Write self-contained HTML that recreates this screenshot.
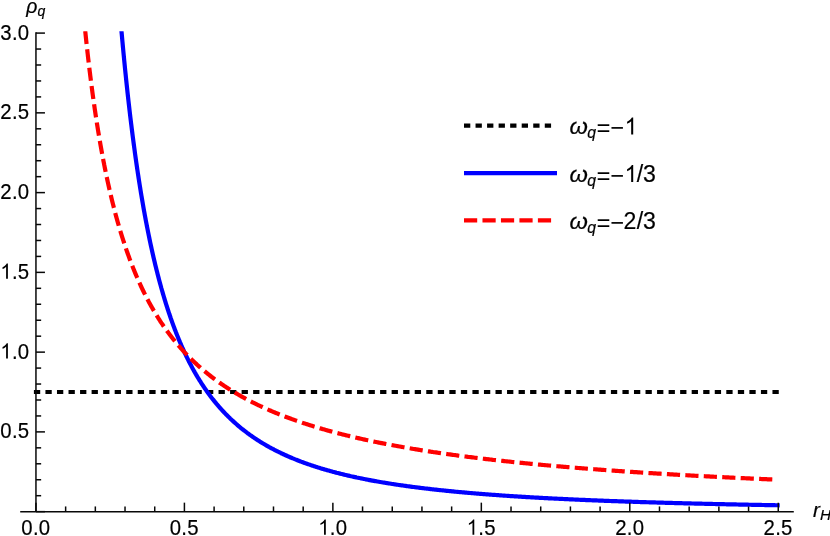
<!DOCTYPE html>
<html><head><meta charset="utf-8"><title>plot</title>
<style>
html,body{margin:0;padding:0;background:#fff;}
body{width:830px;height:536px;overflow:hidden;}
svg{display:block;will-change:transform;}
text{font-family:"Liberation Sans",sans-serif;fill:#000;stroke:#000;stroke-width:0.2px;}
.t{font-size:23.0px;letter-spacing:0.3px;}
.lg{font-size:24.2px;letter-spacing:0.25px;}
.lb{font-size:19.4px;}
.i{font-style:italic;}
</style></head><body>
<svg width="830" height="536" viewBox="0 0 830 536">
<rect width="830" height="536" fill="#fff"/>
<defs><clipPath id="c"><rect x="20" y="31.2" width="800" height="490"/></clipPath></defs>
<g clip-path="url(#c)" fill="none" stroke-width="4.2">
<path d="M33.9,392.01 L778.9,392.01" stroke="#000" stroke-dasharray="6.3 5.24"/>
<path id="blue" d="M117.60,-15.69 L117.97,-11.04 L118.33,-6.43 L118.69,-1.87 L118.93,1.04 L119.06,2.66 L119.43,7.15 L119.80,11.60 L120.17,16.00 L120.26,16.99 L120.55,20.37 L120.92,24.70 L121.30,29.00 L121.58,32.20 L121.68,33.25 L122.06,37.47 L122.44,41.65 L122.82,45.79 L122.91,46.72 L123.21,49.90 L123.60,53.97 L123.99,58.01 L124.24,60.59 L124.38,62.00 L124.77,65.97 L125.16,69.90 L125.56,73.79 L125.56,73.84 L125.96,77.65 L126.36,81.48 L126.76,85.27 L126.89,86.53 L127.16,89.03 L127.56,92.75 L127.97,96.45 L128.22,98.67 L128.38,100.11 L128.79,103.73 L129.20,107.33 L129.54,110.29 L129.62,110.90 L130.03,114.43 L130.45,117.93 L130.87,121.40 L130.87,121.43 L131.29,124.84 L131.71,128.25 L132.14,131.63 L132.20,132.12 L132.56,134.98 L132.99,138.30 L133.42,141.59 L133.53,142.37 L133.86,144.85 L134.29,148.09 L134.73,151.29 L134.85,152.21 L135.16,154.47 L135.60,157.62 L136.05,160.74 L136.18,161.67 L136.49,163.83 L136.94,166.90 L137.38,169.94 L137.51,170.75 L137.83,172.95 L138.29,175.94 L138.74,178.90 L138.83,179.49 L139.20,181.83 L139.66,184.74 L140.12,187.62 L140.16,187.89 L140.58,190.48 L141.04,193.31 L141.49,195.98 L141.51,196.11 L141.98,198.89 L142.45,201.65 L142.81,203.77 L142.92,204.38 L143.39,207.09 L143.87,209.78 L144.14,211.28 L144.35,212.44 L144.83,215.08 L145.31,217.69 L145.47,218.51 L145.80,220.28 L146.29,222.85 L146.78,225.40 L146.79,225.49 L147.27,227.92 L147.76,230.42 L148.12,232.22 L148.26,232.90 L148.76,235.36 L149.26,237.79 L149.45,238.71 L149.76,240.21 L150.26,242.60 L150.77,244.97 L150.77,244.98 L151.28,247.32 L151.79,249.65 L152.10,251.04 L152.31,251.96 L152.82,254.25 L153.34,256.52 L153.43,256.90 L153.86,258.77 L154.39,261.00 L154.75,262.55 L154.91,263.21 L155.44,265.40 L155.97,267.57 L156.08,268.03 L156.50,269.72 L157.04,271.86 L157.41,273.32 L157.57,273.97 L158.11,276.06 L158.66,278.14 L158.74,278.44 L159.20,280.20 L159.75,282.24 L160.06,283.40 L160.30,284.26 L160.85,286.27 L161.39,288.21 L161.40,288.25 L161.96,290.22 L162.52,292.18 L162.72,292.86 L163.08,294.11 L163.64,296.03 L164.04,297.37 L164.21,297.93 L164.78,299.81 L165.35,301.68 L165.37,301.74 L165.93,303.53 L166.50,305.37 L166.70,305.98 L167.08,307.18 L167.66,308.99 L168.02,310.09 L168.25,310.77 L168.83,312.54 L169.35,314.08 L169.42,314.30 L170.02,316.04 L170.61,317.76 L170.68,317.95 L171.21,319.47 L171.81,321.17 L172.00,321.71 L172.41,322.85 L173.02,324.51 L173.33,325.36 L173.63,326.16 L174.24,327.80 L174.66,328.91 L174.85,329.42 L175.47,331.02 L175.98,332.36 L176.09,332.62 L176.71,334.19 L177.31,335.71 L177.33,335.76 L177.96,337.31 L178.59,338.85 L178.64,338.96 L179.22,340.37 L179.86,341.88 L179.96,342.13 L180.50,343.38 L181.14,344.86 L181.29,345.21 L181.78,346.33 L182.43,347.79 L182.62,348.21 L183.08,349.23 L183.73,350.66 L183.95,351.13 L184.39,352.08 L185.05,353.49 L185.27,353.97 L185.71,354.88 L186.37,356.26 L186.60,356.73 L187.04,357.63 L187.71,358.99 L187.93,359.43 L188.38,360.34 L189.06,361.67 L189.25,362.05 L189.74,362.99 L190.42,364.30 L190.58,364.61 L191.11,365.60 L191.80,366.89 L191.91,367.10 L192.49,368.17 L193.18,369.43 L193.23,369.53 L193.88,370.69 L194.56,371.89 L194.58,371.93 L195.28,373.16 L195.89,374.20 L195.99,374.38 L196.70,375.59 L197.21,376.46 L197.41,376.79 L198.13,377.98 L198.54,378.65 L198.85,379.16 L199.57,380.33 L199.87,380.80 L200.30,381.48 L201.03,382.63 L201.19,382.89 L201.76,383.77 L202.50,384.90 L202.52,384.93 L203.24,386.01 L203.85,386.93 L203.98,387.12 L204.72,388.22 L205.17,388.88 L205.47,389.31 L206.22,390.39 L206.50,390.78 L206.98,391.45 L207.74,392.51 L207.83,392.64 L208.50,393.56 L209.16,394.45 L209.27,394.60 L210.04,395.64 L210.48,396.23 L210.81,396.66 L211.58,397.67 L211.81,397.96 L212.36,398.68 L213.14,399.66 L213.15,399.67 L213.93,400.66 L214.46,401.32 L214.72,401.64 L215.52,402.61 L215.79,402.94 L216.31,403.57 L217.11,404.52 L217.12,404.53 L217.92,405.47 L218.44,406.08 L218.72,406.40 L219.53,407.33 L219.77,407.60 L220.35,408.25 L221.10,409.08 L221.17,409.16 L221.99,410.07 L222.42,410.54 L222.81,410.96 L223.64,411.85 L223.75,411.96 L224.48,412.73 L225.08,413.36 L225.31,413.60 L226.15,414.47 L226.40,414.72 L227.00,415.32 L227.73,416.06 L227.85,416.17 L228.70,417.01 L229.06,417.37 L229.55,417.85 L230.39,418.65 L230.41,418.67 L231.27,419.49 L231.71,419.91 L232.14,420.31 L233.01,421.11 L233.04,421.14 L233.89,421.91 L234.37,422.34 L234.76,422.70 L235.65,423.48 L235.69,423.53 L236.53,424.26 L237.02,424.69 L237.42,425.03 L238.32,425.80 L238.35,425.82 L239.21,426.55 L239.67,426.94 L240.12,427.30 L241.00,428.03 L241.02,428.05 L241.93,428.78 L242.33,429.10 L242.85,429.51 L243.65,430.15 L243.76,430.24 L244.69,430.96 L244.98,431.18 L245.61,431.67 L246.31,432.20 L246.54,432.37 L247.48,433.07 L247.63,433.19 L248.41,433.76 L248.96,434.16 L249.36,434.45 L250.29,435.12 L250.30,435.13 L251.26,435.81 L251.61,436.06 L252.21,436.47 L252.94,436.98 L253.17,437.14 L254.13,437.79 L254.27,437.88 L255.10,438.44 L255.60,438.77 L256.07,439.09 L256.92,439.65 L257.05,439.73 L258.03,440.36 L258.25,440.50 L259.02,440.99 L259.58,441.34 L260.01,441.62 L260.90,442.17 L261.00,442.23 L262.00,442.84 L262.23,442.98 L263.00,443.45 L263.56,443.78 L264.01,444.05 L264.88,444.57 L265.02,444.65 L266.04,445.24 L266.21,445.34 L267.06,445.82 L267.54,446.09 L268.09,446.40 L268.86,446.84 L269.12,446.98 L270.15,447.55 L270.19,447.57 L271.19,448.12 L271.52,448.29 L272.23,448.68 L272.84,449.00 L273.28,449.23 L274.17,449.70 L274.33,449.78 L275.39,450.33 L275.50,450.38 L276.46,450.87 L276.82,451.05 L277.52,451.40 L278.15,451.72 L278.59,451.93 L279.48,452.37 L279.67,452.46 L280.75,452.98 L280.81,453.01 L281.84,453.50 L282.13,453.64 L282.93,454.01 L283.46,454.26 L284.03,454.52 L284.79,454.87 L285.13,455.02 L286.11,455.47 L286.23,455.52 L287.34,456.02 L287.44,456.06 L288.46,456.51 L288.77,456.64 L289.58,456.99 L290.09,457.22 L290.70,457.48 L291.42,457.78 L291.83,457.95 L292.75,458.33 L292.97,458.43 L294.07,458.88 L294.11,458.90 L295.26,459.36 L295.40,459.42 L296.41,459.82 L296.73,459.95 L297.56,460.28 L298.05,460.47 L298.72,460.73 L299.38,460.99 L299.89,461.18 L300.71,461.49 L301.06,461.63 L302.03,461.99 L302.24,462.07 L303.36,462.48 L303.42,462.50 L304.60,462.94 L304.69,462.97 L305.80,463.37 L306.02,463.44 L306.99,463.79 L307.34,463.91 L308.20,464.21 L308.67,464.38 L309.40,464.63 L310.00,464.83 L310.62,465.05 L311.32,465.28 L311.84,465.46 L312.65,465.73 L313.06,465.86 L313.98,466.17 L314.29,466.27 L315.30,466.60 L315.52,466.67 L316.63,467.02 L316.77,467.06 L317.96,467.44 L318.01,467.46 L319.26,467.85 L319.28,467.85 L320.52,468.23 L320.61,468.26 L321.78,468.62 L321.94,468.66 L323.05,469.00 L323.26,469.06 L324.32,469.37 L324.59,469.45 L325.60,469.74 L325.92,469.83 L326.89,470.11 L327.24,470.21 L328.18,470.48 L328.57,470.59 L329.48,470.84 L329.90,470.96 L330.78,471.20 L331.23,471.32 L332.09,471.56 L332.55,471.68 L333.40,471.91 L333.88,472.04 L334.72,472.26 L335.21,472.39 L336.05,472.61 L336.53,472.74 L337.38,472.95 L337.86,473.08 L338.72,473.30 L339.19,473.41 L340.06,473.63 L340.51,473.75 L341.41,473.97 L341.84,474.07 L342.76,474.30 L343.17,474.40 L344.13,474.63 L344.49,474.72 L345.49,474.96 L345.82,475.03 L346.87,475.28 L347.15,475.35 L348.25,475.60 L348.47,475.65 L349.63,475.92 L349.80,475.96 L351.02,476.23 L351.13,476.26 L352.42,476.55 L352.46,476.55 L353.78,476.85 L353.83,476.85 L355.11,477.13 L355.24,477.16 L356.44,477.42 L356.65,477.47 L357.76,477.70 L358.08,477.77 L359.09,477.98 L359.51,478.07 L360.42,478.25 L360.94,478.36 L361.74,478.53 L362.38,478.66 L363.07,478.79 L363.83,478.95 L364.40,479.06 L365.29,479.23 L365.72,479.32 L366.75,479.52 L367.05,479.58 L368.22,479.80 L368.38,479.83 L369.69,480.08 L369.70,480.09 L371.03,480.34 L371.17,480.36 L372.36,480.58 L372.66,480.64 L373.68,480.83 L374.15,480.91 L375.01,481.07 L375.65,481.18 L376.34,481.31 L377.16,481.45 L377.67,481.54 L378.67,481.72 L378.99,481.77 L380.19,481.98 L380.32,482.00 L381.65,482.23 L381.72,482.24 L382.97,482.45 L383.26,482.50 L384.30,482.68 L384.80,482.76 L385.63,482.90 L386.35,483.01 L386.95,483.11 L387.90,483.27 L388.28,483.33 L389.46,483.52 L389.61,483.54 L390.93,483.75 L391.03,483.76 L392.26,483.96 L392.61,484.01 L393.59,484.16 L394.19,484.25 L394.91,484.36 L395.78,484.50 L396.24,484.57 L397.37,484.73 L397.57,484.76 L398.89,484.96 L398.98,484.97 L400.22,485.15 L400.59,485.21 L401.55,485.35 L402.21,485.44 L402.88,485.54 L403.83,485.67 L404.20,485.72 L405.46,485.90 L405.53,485.91 L406.86,486.09 L407.10,486.13 L408.18,486.28 L408.75,486.35 L409.51,486.45 L410.41,486.58 L410.84,486.63 L412.07,486.80 L412.16,486.81 L413.49,486.98 L413.74,487.02 L414.82,487.16 L415.41,487.23 L416.14,487.33 L417.10,487.45 L417.47,487.50 L418.79,487.66 L418.80,487.66 L420.12,487.83 L420.49,487.87 L421.45,487.99 L422.19,488.08 L422.78,488.15 L423.91,488.29 L424.10,488.31 L425.43,488.47 L425.63,488.50 L426.76,488.63 L427.36,488.70 L428.09,488.79 L429.09,488.90 L429.41,488.94 L430.74,489.09 L430.84,489.10 L432.07,489.24 L432.59,489.30 L433.39,489.39 L434.35,489.50 L434.72,489.54 L436.05,489.69 L436.12,489.69 L437.37,489.83 L437.89,489.89 L438.70,489.97 L439.68,490.08 L440.03,490.12 L441.35,490.26 L441.47,490.27 L442.68,490.40 L443.27,490.46 L444.01,490.53 L445.07,490.64 L445.33,490.67 L446.66,490.81 L446.89,490.83 L447.99,490.94 L448.71,491.01 L449.31,491.07 L450.54,491.20 L450.64,491.21 L451.97,491.34 L452.38,491.38 L453.30,491.46 L454.23,491.55 L454.62,491.59 L455.95,491.72 L456.09,491.73 L457.28,491.84 L457.95,491.91 L458.60,491.97 L459.82,492.08 L459.93,492.09 L461.26,492.21 L461.71,492.25 L462.58,492.33 L463.59,492.42 L463.91,492.45 L465.24,492.57 L465.49,492.59 L466.56,492.69 L467.40,492.76 L467.89,492.81 L469.22,492.92 L469.31,492.93 L470.54,493.03 L471.23,493.09 L471.87,493.15 L473.17,493.26 L473.20,493.26 L474.53,493.37 L475.11,493.42 L475.85,493.48 L477.05,493.58 L477.18,493.59 L478.51,493.70 L479.01,493.74 L479.83,493.81 L480.98,493.90 L481.16,493.91 L482.49,494.02 L482.95,494.05 L483.81,494.12 L484.94,494.21 L485.14,494.22 L486.47,494.33 L486.93,494.36 L487.79,494.43 L488.93,494.52 L489.12,494.53 L490.45,494.63 L490.94,494.67 L491.77,494.73 L492.96,494.82 L493.10,494.83 L494.43,494.92 L494.99,494.96 L495.75,495.02 L497.02,495.11 L497.08,495.12 L498.41,495.21 L499.07,495.26 L499.74,495.30 L501.06,495.40 L501.12,495.40 L502.39,495.49 L503.19,495.55 L503.72,495.58 L505.04,495.67 L505.26,495.69 L506.37,495.76 L507.34,495.83 L507.70,495.85 L509.02,495.94 L509.43,495.97 L510.35,496.03 L511.54,496.11 L511.68,496.11 L513.00,496.20 L513.65,496.24 L514.33,496.29 L515.66,496.37 L515.77,496.38 L516.98,496.46 L517.89,496.51 L518.31,496.54 L519.64,496.62 L520.03,496.65 L520.96,496.70 L522.18,496.78 L522.29,496.79 L523.62,496.87 L524.34,496.91 L524.95,496.95 L526.27,497.03 L526.51,497.04 L527.60,497.10 L528.68,497.17 L528.93,497.18 L530.25,497.26 L530.87,497.30 L531.58,497.34 L532.91,497.41 L533.06,497.42 L534.23,497.49 L535.27,497.55 L535.56,497.56 L536.89,497.64 L537.49,497.67 L538.21,497.71 L539.54,497.79 L539.71,497.80 L540.87,497.86 L541.95,497.92 L542.19,497.93 L543.52,498.00 L544.19,498.04 L544.85,498.07 L546.17,498.14 L546.45,498.16 L547.50,498.21 L548.71,498.28 L548.83,498.28 L550.16,498.35 L550.99,498.40 L551.48,498.42 L552.81,498.49 L553.27,498.51 L554.14,498.56 L555.46,498.62 L555.57,498.63 L556.79,498.69 L557.87,498.74 L558.12,498.76 L559.44,498.82 L560.19,498.86 L560.77,498.89 L562.10,498.95 L562.52,498.97 L563.42,499.01 L564.75,499.08 L564.85,499.08 L566.08,499.14 L567.20,499.19 L567.40,499.20 L568.73,499.26 L569.56,499.30 L570.06,499.33 L571.38,499.39 L571.92,499.41 L572.71,499.45 L574.04,499.51 L574.30,499.52 L575.37,499.57 L576.69,499.63 L576.69,499.63 L578.02,499.68 L579.09,499.73 L579.35,499.74 L580.67,499.80 L581.50,499.84 L582.00,499.86 L583.33,499.92 L583.92,499.94 L584.65,499.97 L585.98,500.03 L586.35,500.04 L587.31,500.08 L588.63,500.14 L588.79,500.15 L589.96,500.19 L591.25,500.25 L591.29,500.25 L592.61,500.30 L593.71,500.35 L593.94,500.36 L595.27,500.41 L596.19,500.45 L596.60,500.46 L597.92,500.52 L598.67,500.55 L599.25,500.57 L600.58,500.62 L601.17,500.64 L601.90,500.67 L603.23,500.72 L603.68,500.74 L604.56,500.78 L605.88,500.83 L606.20,500.84 L607.21,500.88 L608.54,500.93 L608.73,500.93 L609.86,500.98 L611.19,501.02 L611.27,501.03 L612.52,501.07 L613.82,501.12 L613.84,501.12 L615.17,501.17 L616.38,501.21 L616.50,501.22 L617.82,501.27 L618.96,501.31 L619.15,501.31 L620.48,501.36 L621.55,501.40 L621.81,501.41 L623.13,501.45 L624.14,501.49 L624.46,501.50 L625.79,501.54 L626.75,501.58 L627.11,501.59 L628.44,501.63 L629.38,501.67 L629.77,501.68 L631.09,501.72 L632.01,501.75 L632.42,501.77 L633.75,501.81 L634.65,501.84 L635.07,501.86 L636.40,501.90 L637.31,501.93 L637.73,501.94 L639.05,501.98 L639.98,502.01 L640.38,502.03 L641.71,502.07 L642.66,502.10 L643.03,502.11 L644.36,502.15 L645.35,502.18 L645.69,502.19 L647.02,502.23 L648.05,502.27 L648.34,502.27 L649.67,502.32 L650.77,502.35 L651.00,502.36 L652.32,502.40 L653.50,502.43 L653.65,502.44 L654.98,502.47 L656.24,502.51 L656.30,502.51 L657.63,502.55 L658.96,502.59 L658.99,502.59 L660.28,502.63 L661.61,502.67 L661.76,502.67 L662.94,502.71 L664.26,502.74 L664.53,502.75 L665.59,502.78 L666.92,502.82 L667.32,502.83 L668.24,502.86 L669.57,502.89 L670.12,502.91 L670.90,502.93 L672.23,502.97 L672.94,502.98 L673.55,503.00 L674.88,503.04 L675.76,503.06 L676.21,503.07 L677.53,503.11 L678.60,503.14 L678.86,503.14 L680.19,503.18 L681.45,503.21 L681.51,503.21 L682.84,503.25 L684.17,503.28 L684.32,503.29 L685.49,503.32 L686.82,503.35 L687.19,503.36 L688.15,503.38 L689.47,503.42 L690.08,503.43 L690.80,503.45 L692.13,503.48 L692.99,503.51 L693.45,503.52 L694.78,503.55 L695.90,503.58 L696.11,503.58 L697.44,503.61 L698.76,503.65 L698.83,503.65 L700.09,503.68 L701.42,503.71 L701.77,503.72 L702.74,503.74 L704.07,503.77 L704.73,503.79 L705.40,503.80 L706.72,503.84 L707.69,503.86 L708.05,503.87 L709.38,503.90 L710.67,503.93 L710.70,503.93 L712.03,503.96 L713.36,503.99 L713.67,504.00 L714.68,504.02 L716.01,504.05 L716.68,504.06 L717.34,504.08 L718.67,504.11 L719.70,504.13 L719.99,504.14 L721.32,504.17 L722.65,504.19 L722.73,504.20 L723.97,504.22 L725.30,504.25 L725.78,504.26 L726.63,504.28 L727.95,504.31 L728.84,504.33 L729.28,504.34 L730.61,504.36 L731.91,504.39 L731.93,504.39 L733.26,504.42 L734.59,504.45 L735.00,504.46 L735.91,504.47 L737.24,504.50 L738.10,504.52 L738.57,504.53 L739.89,504.55 L741.22,504.58 L741.22,504.58 L742.55,504.61 L743.88,504.63 L744.35,504.64 L745.20,504.66 L746.53,504.69 L747.49,504.71 L747.86,504.71 L749.18,504.74 L750.51,504.76 L750.65,504.77 L751.84,504.79 L753.16,504.82 L753.82,504.83 L754.49,504.84 L755.82,504.87 L757.00,504.89 L757.14,504.89 L758.47,504.92 L759.80,504.94 L760.20,504.95 L761.12,504.96 L762.45,504.99 L763.42,505.01 L763.78,505.01 L765.10,505.04 L766.43,505.06 L766.64,505.06 L767.76,505.08 L769.09,505.11 L769.89,505.12 L770.41,505.13 L771.74,505.16 L773.07,505.18 L773.14,505.18 L774.39,505.20 L775.72,505.23 L776.41,505.24 L777.05,505.25 L778.37,505.27 L779.70,505.29" stroke="#0000ff" stroke-linejoin="round"/>
<path id="red" d="M81.97,-2.93 L82.23,-0.07 L82.49,2.77 L82.75,5.60 L83.01,8.41 L83.27,11.20 L83.37,12.19 L83.54,13.98 L83.80,16.75 L84.07,19.50 L84.34,22.23 L84.61,24.95 L84.76,26.45 L84.88,27.65 L85.15,30.34 L85.43,33.01 L85.71,35.67 L85.98,38.32 L86.15,39.92 L86.26,40.95 L86.54,43.56 L86.83,46.16 L87.11,48.75 L87.40,51.32 L87.55,52.66 L87.68,53.87 L87.97,56.42 L88.26,58.95 L88.56,61.46 L88.85,63.96 L88.94,64.74 L89.14,66.45 L89.44,68.92 L89.74,71.38 L90.04,73.82 L90.33,76.19 L90.34,76.26 L90.65,78.68 L90.95,81.08 L91.26,83.47 L91.57,85.85 L91.73,87.07 L91.88,88.22 L92.19,90.57 L92.51,92.91 L92.82,95.23 L93.12,97.42 L93.14,97.55 L93.46,99.85 L93.78,102.13 L94.10,104.41 L94.43,106.67 L94.52,107.28 L94.75,108.92 L95.08,111.16 L95.41,113.38 L95.75,115.59 L95.91,116.67 L96.08,117.79 L96.42,119.98 L96.75,122.16 L97.09,124.32 L97.30,125.65 L97.43,126.47 L97.78,128.61 L98.12,130.74 L98.47,132.85 L98.70,134.22 L98.82,134.96 L99.17,137.05 L99.52,139.13 L99.88,141.20 L100.09,142.42 L100.24,143.26 L100.59,145.30 L100.96,147.34 L101.32,149.36 L101.48,150.27 L101.68,151.38 L102.05,153.38 L102.42,155.37 L102.79,157.35 L102.88,157.80 L103.17,159.31 L103.54,161.27 L103.92,163.22 L104.27,165.02 L104.30,165.15 L104.68,167.08 L105.06,168.99 L105.45,170.89 L105.66,171.95 L105.84,172.79 L106.23,174.67 L106.62,176.54 L107.02,178.40 L107.06,178.60 L107.41,180.25 L107.81,182.09 L108.21,183.92 L108.45,185.01 L108.62,185.75 L109.02,187.56 L109.43,189.36 L109.84,191.15 L109.85,191.17 L110.25,192.93 L110.67,194.70 L111.09,196.46 L111.24,197.10 L111.51,198.21 L111.93,199.95 L112.35,201.68 L112.63,202.81 L112.78,203.40 L113.21,205.11 L113.64,206.82 L114.03,208.33 L114.07,208.51 L114.51,210.19 L114.95,211.87 L115.39,213.53 L115.42,213.65 L115.83,215.19 L116.28,216.84 L116.73,218.47 L116.81,218.78 L117.18,220.10 L117.63,221.72 L118.09,223.33 L118.21,223.74 L118.55,224.93 L119.01,226.53 L119.47,228.11 L119.60,228.54 L119.94,229.69 L120.41,231.25 L120.88,232.81 L120.99,233.18 L121.36,234.36 L121.83,235.90 L122.31,237.43 L122.39,237.67 L122.79,238.95 L123.28,240.47 L123.77,241.97 L123.78,242.02 L124.26,243.47 L124.75,244.96 L125.18,246.23 L125.25,246.44 L125.75,247.92 L126.25,249.38 L126.57,250.31 L126.75,250.84 L127.26,252.29 L127.77,253.73 L127.96,254.27 L128.28,255.16 L128.80,256.58 L129.32,258.00 L129.36,258.11 L129.84,259.41 L130.36,260.81 L130.75,261.84 L130.89,262.20 L131.42,263.59 L131.95,264.97 L132.14,265.46 L132.49,266.34 L133.03,267.70 L133.54,268.97 L133.57,269.06 L134.12,270.40 L134.66,271.74 L134.93,272.39 L135.22,273.08 L135.77,274.40 L136.32,275.71 L136.33,275.72 L136.89,277.03 L137.45,278.33 L137.72,278.94 L138.02,279.63 L138.59,280.92 L139.11,282.09 L139.16,282.20 L139.74,283.47 L140.32,284.74 L140.51,285.15 L140.90,286.00 L141.49,287.25 L141.90,288.12 L142.08,288.50 L142.67,289.74 L143.27,290.97 L143.29,291.03 L143.87,292.20 L144.47,293.42 L144.69,293.85 L145.08,294.63 L145.68,295.84 L146.08,296.61 L146.30,297.03 L146.91,298.23 L147.47,299.30 L147.53,299.41 L148.16,300.59 L148.78,301.76 L148.87,301.92 L149.41,302.93 L150.05,304.09 L150.26,304.48 L150.69,305.24 L151.33,306.39 L151.65,306.97 L151.97,307.53 L152.62,308.66 L153.05,309.41 L153.27,309.79 L153.93,310.91 L154.44,311.79 L154.58,312.03 L155.25,313.13 L155.84,314.11 L155.91,314.24 L156.58,315.33 L157.23,316.38 L157.26,316.42 L157.94,317.51 L158.62,318.59 L158.62,318.60 L159.30,319.66 L159.99,320.73 L160.02,320.77 L160.68,321.79 L161.38,322.84 L161.41,322.89 L162.08,323.89 L162.79,324.93 L162.80,324.96 L163.49,325.97 L164.20,326.99 L164.21,327.00 L164.92,328.03 L165.59,328.97 L165.64,329.05 L166.37,330.06 L166.98,330.92 L167.10,331.07 L167.83,332.07 L168.38,332.82 L168.56,333.07 L169.31,334.06 L169.77,334.68 L170.05,335.05 L170.80,336.03 L171.17,336.51 L171.55,337.01 L172.31,337.98 L172.56,338.29 L173.07,338.94 L173.84,339.90 L173.95,340.04 L174.61,340.85 L175.35,341.76 L175.38,341.80 L176.16,342.75 L176.74,343.44 L176.94,343.68 L177.73,344.62 L178.13,345.09 L178.52,345.54 L179.32,346.47 L179.53,346.71 L180.12,347.38 L180.92,348.29 L180.93,348.30 L181.74,349.20 L182.31,349.85 L182.55,350.11 L183.37,351.00 L183.71,351.37 L184.19,351.90 L185.02,352.78 L185.10,352.87 L185.85,353.67 L186.50,354.34 L186.69,354.54 L187.53,355.42 L187.89,355.78 L188.38,356.28 L189.23,357.15 L189.28,357.20 L190.09,358.01 L190.68,358.59 L190.95,358.86 L191.81,359.71 L192.07,359.96 L192.68,360.55 L193.46,361.30 L193.56,361.39 L194.44,362.23 L194.86,362.62 L195.33,363.06 L196.22,363.88 L196.25,363.91 L197.11,364.70 L197.64,365.19 L198.01,365.52 L198.92,366.33 L199.04,366.44 L199.83,367.14 L200.43,367.67 L200.74,367.94 L201.66,368.74 L201.83,368.88 L202.59,369.53 L203.22,370.07 L203.52,370.32 L204.45,371.11 L204.61,371.24 L205.40,371.89 L206.01,372.39 L206.34,372.66 L207.29,373.43 L207.40,373.52 L208.25,374.20 L208.79,374.63 L209.21,374.97 L210.18,375.73 L210.19,375.73 L211.15,376.48 L211.58,376.81 L212.13,377.23 L212.97,377.87 L213.12,377.98 L214.11,378.72 L214.37,378.92 L215.10,379.46 L215.76,379.94 L216.10,380.19 L217.11,380.92 L217.16,380.96 L218.12,381.65 L218.55,381.95 L219.14,382.37 L219.94,382.94 L220.16,383.09 L221.19,383.80 L221.34,383.90 L222.23,384.51 L222.73,384.86 L223.27,385.22 L224.12,385.80 L224.31,385.92 L225.36,386.62 L225.52,386.72 L226.42,387.32 L226.91,387.63 L227.49,388.01 L228.31,388.53 L228.56,388.69 L229.63,389.38 L229.70,389.42 L230.71,390.05 L231.09,390.29 L231.80,390.73 L232.49,391.15 L232.90,391.40 L233.88,392.00 L234.00,392.07 L235.10,392.73 L235.27,392.84 L236.21,393.39 L236.67,393.66 L237.33,394.05 L238.06,394.47 L238.46,394.70 L239.45,395.28 L239.59,395.35 L240.73,396.00 L240.85,396.07 L241.87,396.64 L242.24,396.85 L243.02,397.28 L243.64,397.62 L244.18,397.92 L245.03,398.38 L245.34,398.55 L246.42,399.13 L246.51,399.18 L247.69,399.80 L247.82,399.87 L248.87,400.42 L249.21,400.60 L250.06,401.04 L250.60,401.32 L251.25,401.65 L252.00,402.03 L252.46,402.27 L253.39,402.74 L253.67,402.87 L254.78,403.43 L254.88,403.48 L256.10,404.08 L256.18,404.11 L257.33,404.68 L257.57,404.79 L258.57,405.27 L258.97,405.46 L259.81,405.86 L260.36,406.12 L261.06,406.45 L261.75,406.77 L262.32,407.03 L263.15,407.41 L263.59,407.61 L264.54,408.05 L264.86,408.19 L265.93,408.68 L266.14,408.77 L267.33,409.30 L267.42,409.34 L268.71,409.91 L268.72,409.91 L270.02,410.47 L270.11,410.51 L271.32,411.03 L271.51,411.11 L272.64,411.59 L272.90,411.70 L273.96,412.15 L274.30,412.29 L275.29,412.70 L275.69,412.87 L276.63,413.25 L277.08,413.44 L277.97,413.80 L278.48,414.00 L279.32,414.34 L279.87,414.56 L280.68,414.88 L281.26,415.11 L282.05,415.42 L282.66,415.66 L283.42,415.95 L284.05,416.20 L284.80,416.48 L285.44,416.73 L286.19,417.01 L286.84,417.26 L287.59,417.54 L288.23,417.78 L289.00,418.06 L289.63,418.29 L290.41,418.58 L291.02,418.80 L291.83,419.10 L292.41,419.31 L293.26,419.61 L293.81,419.81 L294.70,420.12 L295.20,420.30 L296.14,420.63 L296.59,420.79 L297.60,421.14 L297.99,421.27 L299.06,421.64 L299.38,421.75 L300.53,422.14 L300.77,422.22 L302.01,422.64 L302.17,422.69 L303.49,423.13 L303.56,423.15 L304.96,423.61 L304.99,423.62 L306.35,424.07 L306.49,424.11 L307.74,424.52 L308.00,424.60 L309.14,424.96 L309.52,425.08 L310.53,425.40 L311.05,425.56 L311.92,425.84 L312.59,426.04 L313.32,426.27 L314.13,426.52 L314.71,426.69 L315.68,426.99 L316.10,427.12 L317.25,427.46 L317.50,427.54 L318.82,427.93 L318.89,427.95 L320.29,428.36 L320.40,428.39 L321.68,428.77 L321.99,428.86 L323.07,429.17 L323.59,429.32 L324.47,429.57 L325.19,429.77 L325.86,429.96 L326.81,430.23 L327.25,430.35 L328.43,430.68 L328.65,430.74 L330.04,431.12 L330.07,431.13 L331.43,431.50 L331.71,431.58 L332.83,431.88 L333.36,432.02 L334.22,432.25 L335.02,432.46 L335.62,432.62 L336.69,432.90 L337.01,432.99 L338.37,433.34 L338.40,433.35 L339.80,433.71 L340.06,433.78 L341.19,434.06 L341.76,434.21 L342.58,434.42 L343.47,434.64 L343.98,434.77 L345.19,435.07 L345.37,435.11 L346.76,435.46 L346.91,435.49 L348.16,435.80 L348.65,435.91 L349.55,436.13 L350.40,436.34 L350.95,436.47 L352.15,436.75 L352.34,436.80 L353.73,437.13 L353.92,437.17 L355.13,437.45 L355.70,437.58 L356.52,437.77 L357.48,438.00 L357.91,438.09 L359.28,438.40 L359.31,438.41 L360.70,438.73 L361.08,438.81 L362.09,439.04 L362.90,439.22 L363.49,439.35 L364.73,439.62 L364.88,439.65 L366.28,439.96 L366.56,440.02 L367.67,440.26 L368.41,440.42 L369.06,440.56 L370.27,440.81 L370.46,440.85 L371.85,441.15 L372.13,441.21 L373.24,441.44 L374.01,441.60 L374.64,441.73 L375.90,441.99 L376.03,442.01 L377.42,442.30 L377.80,442.37 L378.82,442.58 L379.71,442.76 L380.21,442.86 L381.61,443.14 L381.63,443.14 L383.00,443.41 L383.56,443.52 L384.39,443.68 L385.50,443.90 L385.79,443.95 L387.18,444.22 L387.45,444.28 L388.57,444.49 L389.42,444.65 L389.97,444.75 L391.36,445.02 L391.39,445.02 L392.75,445.28 L393.38,445.39 L394.15,445.53 L395.37,445.76 L395.54,445.79 L396.94,446.05 L397.38,446.13 L398.33,446.30 L399.40,446.49 L399.72,446.55 L401.12,446.80 L401.43,446.85 L402.51,447.04 L403.47,447.21 L403.90,447.29 L405.30,447.53 L405.52,447.57 L406.69,447.77 L407.59,447.93 L408.08,448.01 L409.48,448.25 L409.66,448.28 L410.87,448.48 L411.75,448.63 L412.27,448.72 L413.66,448.95 L413.85,448.98 L415.05,449.18 L415.96,449.33 L416.45,449.41 L417.84,449.64 L418.08,449.68 L419.23,449.86 L420.22,450.02 L420.63,450.09 L422.02,450.31 L422.36,450.36 L423.41,450.53 L424.52,450.70 L424.81,450.75 L426.20,450.97 L426.69,451.04 L427.60,451.18 L428.87,451.38 L428.99,451.40 L430.38,451.61 L431.07,451.71 L431.78,451.82 L433.17,452.03 L433.28,452.05 L434.56,452.24 L435.50,452.38 L435.96,452.45 L437.35,452.65 L437.73,452.71 L438.74,452.85 L439.97,453.03 L440.14,453.06 L441.53,453.26 L442.23,453.36 L442.93,453.46 L444.32,453.66 L444.50,453.68 L445.71,453.85 L446.78,454.00 L447.11,454.05 L448.50,454.25 L449.07,454.33 L449.89,454.44 L451.29,454.63 L451.38,454.64 L452.68,454.82 L453.70,454.96 L454.08,455.01 L455.47,455.20 L456.04,455.27 L456.86,455.39 L458.26,455.57 L458.38,455.59 L459.65,455.76 L460.74,455.90 L461.04,455.94 L462.44,456.12 L463.11,456.21 L463.83,456.30 L465.22,456.48 L465.50,456.52 L466.62,456.66 L467.90,456.82 L468.01,456.84 L469.41,457.01 L470.31,457.13 L470.80,457.19 L472.19,457.36 L472.74,457.43 L473.59,457.54 L474.98,457.71 L475.18,457.73 L476.37,457.88 L477.63,458.03 L477.77,458.05 L479.16,458.22 L480.10,458.33 L480.55,458.38 L481.95,458.55 L482.58,458.63 L483.34,458.72 L484.74,458.88 L485.07,458.92 L486.13,459.04 L487.52,459.21 L487.58,459.21 L488.92,459.37 L490.11,459.50 L490.31,459.53 L491.70,459.69 L492.64,459.79 L493.10,459.85 L494.49,460.00 L495.19,460.08 L495.88,460.16 L497.28,460.31 L497.76,460.37 L498.67,460.47 L500.07,460.62 L500.34,460.65 L501.46,460.78 L502.85,460.93 L502.93,460.94 L504.25,461.08 L505.54,461.22 L505.64,461.23 L507.03,461.38 L508.16,461.50 L508.43,461.53 L509.82,461.67 L510.80,461.78 L511.21,461.82 L512.61,461.97 L513.45,462.05 L514.00,462.11 L515.40,462.25 L516.12,462.33 L516.79,462.40 L518.18,462.54 L518.80,462.60 L519.58,462.68 L520.97,462.82 L521.50,462.88 L522.36,462.96 L523.76,463.10 L524.21,463.15 L525.15,463.24 L526.54,463.38 L526.94,463.42 L527.94,463.51 L529.33,463.65 L529.68,463.68 L530.73,463.79 L532.12,463.92 L532.44,463.95 L533.51,464.05 L534.91,464.19 L535.21,464.22 L536.30,464.32 L537.69,464.45 L538.00,464.48 L539.09,464.58 L540.48,464.71 L540.81,464.74 L541.87,464.84 L543.27,464.97 L543.63,465.00 L544.66,465.10 L546.06,465.22 L546.46,465.26 L547.45,465.35 L548.84,465.48 L549.31,465.52 L550.24,465.60 L551.63,465.73 L552.18,465.77 L553.02,465.85 L554.42,465.97 L555.06,466.03 L555.81,466.09 L557.20,466.22 L557.96,466.28 L558.60,466.34 L559.99,466.46 L560.88,466.53 L561.39,466.58 L562.78,466.70 L563.81,466.79 L564.17,466.82 L565.57,466.93 L566.76,467.03 L566.96,467.05 L568.35,467.17 L569.72,467.28 L569.75,467.28 L571.14,467.40 L572.53,467.51 L572.71,467.53 L573.93,467.63 L575.32,467.74 L575.70,467.77 L576.72,467.86 L578.11,467.97 L578.72,468.02 L579.50,468.08 L580.90,468.19 L581.75,468.26 L582.29,468.30 L583.68,468.41 L584.80,468.50 L585.08,468.52 L586.47,468.63 L587.86,468.74 L587.86,468.74 L589.26,468.85 L590.65,468.96 L590.95,468.98 L592.05,469.06 L593.44,469.17 L594.05,469.22 L594.83,469.28 L596.23,469.38 L597.16,469.45 L597.62,469.49 L599.01,469.59 L600.30,469.69 L600.41,469.69 L601.80,469.80 L603.19,469.90 L603.45,469.92 L604.59,470.00 L605.98,470.10 L606.62,470.15 L607.38,470.21 L608.77,470.31 L609.81,470.38 L610.16,470.41 L611.56,470.51 L612.95,470.61 L613.01,470.61 L614.34,470.70 L615.74,470.80 L616.24,470.84 L617.13,470.90 L618.52,471.00 L619.48,471.07 L619.92,471.10 L621.31,471.19 L622.71,471.29 L622.74,471.29 L624.10,471.38 L625.49,471.48 L626.02,471.51 L626.89,471.57 L628.28,471.67 L629.31,471.74 L629.67,471.76 L631.07,471.86 L632.46,471.95 L632.63,471.96 L633.85,472.04 L635.25,472.13 L635.96,472.18 L636.64,472.22 L638.04,472.32 L639.31,472.40 L639.43,472.41 L640.82,472.50 L642.22,472.59 L642.68,472.62 L643.61,472.68 L645.00,472.77 L646.07,472.83 L646.40,472.85 L647.79,472.94 L649.18,473.03 L649.48,473.05 L650.58,473.12 L651.97,473.21 L652.90,473.26 L653.37,473.29 L654.76,473.38 L656.15,473.47 L656.35,473.48 L657.55,473.55 L658.94,473.64 L659.82,473.69 L660.33,473.72 L661.73,473.81 L663.12,473.89 L663.30,473.90 L664.51,473.97 L665.91,474.06 L666.80,474.11 L667.30,474.14 L668.70,474.22 L670.09,474.30 L670.33,474.32 L671.48,474.39 L672.88,474.47 L673.87,474.53 L674.27,474.55 L675.66,474.63 L677.06,474.71 L677.43,474.73 L678.45,474.79 L679.85,474.87 L681.02,474.94 L681.24,474.95 L682.63,475.03 L684.03,475.11 L684.62,475.14 L685.42,475.19 L686.81,475.26 L688.21,475.34 L688.24,475.34 L689.60,475.42 L690.99,475.50 L691.89,475.55 L692.39,475.57 L693.78,475.65 L695.18,475.73 L695.55,475.75 L696.57,475.80 L697.96,475.88 L699.24,475.95 L699.36,475.95 L700.75,476.03 L702.14,476.10 L702.94,476.14 L703.54,476.18 L704.93,476.25 L706.32,476.32 L706.67,476.34 L707.72,476.40 L709.11,476.47 L710.41,476.54 L710.51,476.54 L711.90,476.61 L713.29,476.69 L714.18,476.73 L714.69,476.76 L716.08,476.83 L717.47,476.90 L717.97,476.93 L718.87,476.97 L720.26,477.04 L721.65,477.11 L721.78,477.12 L723.05,477.18 L724.44,477.25 L725.61,477.31 L725.84,477.32 L727.23,477.39 L728.62,477.46 L729.46,477.50 L730.02,477.53 L731.41,477.60 L732.80,477.67 L733.33,477.69 L734.20,477.73 L735.59,477.80 L736.98,477.87 L737.23,477.88 L738.38,477.94 L739.77,478.00 L741.15,478.07 L741.17,478.07 L742.56,478.13 L743.95,478.20 L745.09,478.25 L745.35,478.27 L746.74,478.33 L748.13,478.40 L749.05,478.44 L749.53,478.46 L750.92,478.53 L752.31,478.59 L753.03,478.62 L753.71,478.66 L755.10,478.72 L756.50,478.78 L757.04,478.81 L757.89,478.85 L759.28,478.91 L760.68,478.97 L761.06,478.99 L762.07,479.04 L763.46,479.10 L764.86,479.16 L765.11,479.17 L766.25,479.22 L767.64,479.28 L769.04,479.35 L769.19,479.35 L770.43,479.41 L771.83,479.47 L773.22,479.53 L773.28,479.53 L774.61,479.59 L776.01,479.65 L777.40,479.71" stroke="#ff0000" stroke-dasharray="13.2 5.272" stroke-dashoffset="2.936" stroke-linejoin="round"/>
</g>
<g stroke="#080808" stroke-width="1.5" fill="none">
<line x1="20.2" y1="511.65" x2="793.8" y2="511.65"/>
<line x1="35.95" y1="511.65" x2="35.95" y2="32.34"/>
<line x1="35.95" y1="511.65" x2="35.95" y2="502.65"/>
<line x1="65.64" y1="511.65" x2="65.64" y2="506.45"/>
<line x1="95.33" y1="511.65" x2="95.33" y2="506.45"/>
<line x1="125.03" y1="511.65" x2="125.03" y2="506.45"/>
<line x1="154.72" y1="511.65" x2="154.72" y2="506.45"/>
<line x1="184.41" y1="511.65" x2="184.41" y2="502.65"/>
<line x1="214.10" y1="511.65" x2="214.10" y2="506.45"/>
<line x1="243.79" y1="511.65" x2="243.79" y2="506.45"/>
<line x1="273.49" y1="511.65" x2="273.49" y2="506.45"/>
<line x1="303.18" y1="511.65" x2="303.18" y2="506.45"/>
<line x1="332.87" y1="511.65" x2="332.87" y2="502.65"/>
<line x1="362.56" y1="511.65" x2="362.56" y2="506.45"/>
<line x1="392.25" y1="511.65" x2="392.25" y2="506.45"/>
<line x1="421.95" y1="511.65" x2="421.95" y2="506.45"/>
<line x1="451.64" y1="511.65" x2="451.64" y2="506.45"/>
<line x1="481.33" y1="511.65" x2="481.33" y2="502.65"/>
<line x1="511.02" y1="511.65" x2="511.02" y2="506.45"/>
<line x1="540.71" y1="511.65" x2="540.71" y2="506.45"/>
<line x1="570.41" y1="511.65" x2="570.41" y2="506.45"/>
<line x1="600.10" y1="511.65" x2="600.10" y2="506.45"/>
<line x1="629.79" y1="511.65" x2="629.79" y2="502.65"/>
<line x1="659.48" y1="511.65" x2="659.48" y2="506.45"/>
<line x1="689.17" y1="511.65" x2="689.17" y2="506.45"/>
<line x1="718.87" y1="511.65" x2="718.87" y2="506.45"/>
<line x1="748.56" y1="511.65" x2="748.56" y2="506.45"/>
<line x1="778.25" y1="511.65" x2="778.25" y2="502.65"/>
<line x1="35.95" y1="511.65" x2="44.95" y2="511.65"/>
<line x1="35.95" y1="495.70" x2="41.15" y2="495.70"/>
<line x1="35.95" y1="479.75" x2="41.15" y2="479.75"/>
<line x1="35.95" y1="463.79" x2="41.15" y2="463.79"/>
<line x1="35.95" y1="447.84" x2="41.15" y2="447.84"/>
<line x1="35.95" y1="431.89" x2="44.95" y2="431.89"/>
<line x1="35.95" y1="415.94" x2="41.15" y2="415.94"/>
<line x1="35.95" y1="399.99" x2="41.15" y2="399.99"/>
<line x1="35.95" y1="384.03" x2="41.15" y2="384.03"/>
<line x1="35.95" y1="368.08" x2="41.15" y2="368.08"/>
<line x1="35.95" y1="352.13" x2="44.95" y2="352.13"/>
<line x1="35.95" y1="336.18" x2="41.15" y2="336.18"/>
<line x1="35.95" y1="320.23" x2="41.15" y2="320.23"/>
<line x1="35.95" y1="304.27" x2="41.15" y2="304.27"/>
<line x1="35.95" y1="288.32" x2="41.15" y2="288.32"/>
<line x1="35.95" y1="272.37" x2="44.95" y2="272.37"/>
<line x1="35.95" y1="256.42" x2="41.15" y2="256.42"/>
<line x1="35.95" y1="240.47" x2="41.15" y2="240.47"/>
<line x1="35.95" y1="224.51" x2="41.15" y2="224.51"/>
<line x1="35.95" y1="208.56" x2="41.15" y2="208.56"/>
<line x1="35.95" y1="192.61" x2="44.95" y2="192.61"/>
<line x1="35.95" y1="176.66" x2="41.15" y2="176.66"/>
<line x1="35.95" y1="160.71" x2="41.15" y2="160.71"/>
<line x1="35.95" y1="144.75" x2="41.15" y2="144.75"/>
<line x1="35.95" y1="128.80" x2="41.15" y2="128.80"/>
<line x1="35.95" y1="112.85" x2="44.95" y2="112.85"/>
<line x1="35.95" y1="96.90" x2="41.15" y2="96.90"/>
<line x1="35.95" y1="80.95" x2="41.15" y2="80.95"/>
<line x1="35.95" y1="64.99" x2="41.15" y2="64.99"/>
<line x1="35.95" y1="49.04" x2="41.15" y2="49.04"/>
<line x1="35.95" y1="33.09" x2="44.95" y2="33.09"/>
</g>
<g>
<text transform="translate(21.31,534.80) scale(0.885,1)" font-size="23.0">0</text>
<text transform="translate(32.89,534.80) scale(0.885,1)" font-size="23.0">.</text>
<text transform="translate(38.81,534.80) scale(0.885,1)" font-size="23.0">0</text>
<text transform="translate(169.77,534.80) scale(0.885,1)" font-size="23.0">0</text>
<text transform="translate(181.35,534.80) scale(0.885,1)" font-size="23.0">.</text>
<text transform="translate(187.27,534.80) scale(0.885,1)" font-size="23.0">5</text>
<path transform="translate(318.23,534.80) scale(0.009939,-0.010444)" d="M763 0 H583 V1147 Q518 1085 412.5 1023 T223 930 V1104 Q374 1175 487 1276 T647 1472 H763 Z" fill="#000" stroke="none"/>
<text transform="translate(329.81,534.80) scale(0.885,1)" font-size="23.0">.</text>
<text transform="translate(335.73,534.80) scale(0.885,1)" font-size="23.0">0</text>
<path transform="translate(466.69,534.80) scale(0.009939,-0.010444)" d="M763 0 H583 V1147 Q518 1085 412.5 1023 T223 930 V1104 Q374 1175 487 1276 T647 1472 H763 Z" fill="#000" stroke="none"/>
<text transform="translate(478.27,534.80) scale(0.885,1)" font-size="23.0">.</text>
<text transform="translate(484.19,534.80) scale(0.885,1)" font-size="23.0">5</text>
<text transform="translate(615.15,534.80) scale(0.885,1)" font-size="23.0">2</text>
<text transform="translate(626.73,534.80) scale(0.885,1)" font-size="23.0">.</text>
<text transform="translate(632.65,534.80) scale(0.885,1)" font-size="23.0">0</text>
<text transform="translate(763.61,534.80) scale(0.885,1)" font-size="23.0">2</text>
<text transform="translate(775.19,534.80) scale(0.885,1)" font-size="23.0">.</text>
<text transform="translate(781.11,534.80) scale(0.885,1)" font-size="23.0">5</text>
<text transform="translate(0.31,438.34) scale(0.885,1)" font-size="23.0">0</text>
<text transform="translate(11.89,438.34) scale(0.885,1)" font-size="23.0">.</text>
<text transform="translate(17.82,438.34) scale(0.885,1)" font-size="23.0">5</text>
<path transform="translate(0.31,358.58) scale(0.009939,-0.010444)" d="M763 0 H583 V1147 Q518 1085 412.5 1023 T223 930 V1104 Q374 1175 487 1276 T647 1472 H763 Z" fill="#000" stroke="none"/>
<text transform="translate(11.89,358.58) scale(0.885,1)" font-size="23.0">.</text>
<text transform="translate(17.82,358.58) scale(0.885,1)" font-size="23.0">0</text>
<path transform="translate(0.31,278.82) scale(0.009939,-0.010444)" d="M763 0 H583 V1147 Q518 1085 412.5 1023 T223 930 V1104 Q374 1175 487 1276 T647 1472 H763 Z" fill="#000" stroke="none"/>
<text transform="translate(11.89,278.82) scale(0.885,1)" font-size="23.0">.</text>
<text transform="translate(17.82,278.82) scale(0.885,1)" font-size="23.0">5</text>
<text transform="translate(0.31,199.06) scale(0.885,1)" font-size="23.0">2</text>
<text transform="translate(11.89,199.06) scale(0.885,1)" font-size="23.0">.</text>
<text transform="translate(17.82,199.06) scale(0.885,1)" font-size="23.0">0</text>
<text transform="translate(0.31,119.30) scale(0.885,1)" font-size="23.0">2</text>
<text transform="translate(11.89,119.30) scale(0.885,1)" font-size="23.0">.</text>
<text transform="translate(17.82,119.30) scale(0.885,1)" font-size="23.0">5</text>
<text transform="translate(0.31,39.54) scale(0.885,1)" font-size="23.0">3</text>
<text transform="translate(11.89,39.54) scale(0.885,1)" font-size="23.0">.</text>
<text transform="translate(17.82,39.54) scale(0.885,1)" font-size="23.0">0</text>
<text x="26.2" y="13.3" class="lb"><tspan class="i">ρ</tspan><tspan class="i" font-size="14.0" dy="2.3" dx="0.3">q</tspan></text>
<text x="813.0" y="516.7" class="lb" font-size="20.7"><tspan class="i" font-size="20.7">r</tspan><tspan class="i" font-size="15.2" dy="3.1">H</tspan></text>
</g>
<g fill="none" stroke-width="4.2">
<line x1="464" y1="125.7" x2="551.2" y2="125.7" stroke="#000" stroke-dasharray="6.3 5.24"/>
<line x1="464" y1="173.2" x2="557" y2="173.2" stroke="#0000ff"/>
<line x1="464" y1="220.4" x2="551.2" y2="220.4" stroke="#ff0000" stroke-dasharray="13.2 5.272"/>
</g>
<g class="lgx">
<text transform="translate(569.57,134.40) scale(1.035,1)" font-size="22.8" font-style="italic">ω</text>
<text transform="translate(587.20,138.40) scale(0.955,1)" font-size="16.6" font-style="italic">q</text>
<text transform="translate(596.84,136.10) scale(0.955,1)" font-size="24.2">=</text>
<text transform="translate(610.44,136.10) scale(0.955,1)" font-size="24.2">−</text>
<path transform="translate(624.59,134.40) scale(0.011285,-0.011403)" d="M763 0 H583 V1147 Q518 1085 412.5 1023 T223 930 V1104 Q374 1175 487 1276 T647 1472 H763 Z" fill="#000" stroke="none"/>
<text transform="translate(569.57,181.90) scale(1.035,1)" font-size="22.8" font-style="italic">ω</text>
<text transform="translate(587.20,185.90) scale(0.955,1)" font-size="16.6" font-style="italic">q</text>
<text transform="translate(596.84,183.60) scale(0.955,1)" font-size="24.2">=</text>
<text transform="translate(610.44,183.60) scale(0.955,1)" font-size="24.2">−</text>
<path transform="translate(624.59,181.90) scale(0.011285,-0.011403)" d="M763 0 H583 V1147 Q518 1085 412.5 1023 T223 930 V1104 Q374 1175 487 1276 T647 1472 H763 Z" fill="#000" stroke="none"/>
<text transform="translate(636.75,181.90) scale(0.955,1)" font-size="24.2">/</text>
<text transform="translate(643.03,181.90) scale(0.955,1)" font-size="24.2">3</text>
<text transform="translate(569.57,229.10) scale(1.035,1)" font-size="22.8" font-style="italic">ω</text>
<text transform="translate(587.20,233.10) scale(0.955,1)" font-size="16.6" font-style="italic">q</text>
<text transform="translate(596.84,230.80) scale(0.955,1)" font-size="24.2">=</text>
<text transform="translate(610.44,230.80) scale(0.955,1)" font-size="24.2">−</text>
<text transform="translate(623.44,229.10) scale(0.955,1)" font-size="24.2">2</text>
<text transform="translate(636.75,229.10) scale(0.955,1)" font-size="24.2">/</text>
<text transform="translate(643.03,229.10) scale(0.955,1)" font-size="24.2">3</text>
</g>
</svg>
</body></html>
